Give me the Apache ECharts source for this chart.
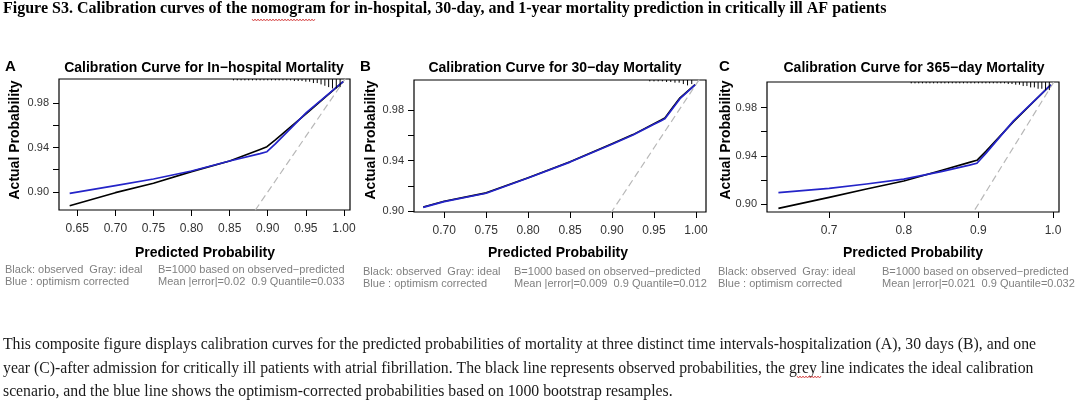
<!DOCTYPE html>
<html><head><meta charset="utf-8">
<script src="https://cdn.jsdelivr.net/npm/echarts@6/dist/echarts.min.js"></script>
<style>html,body{margin:0;padding:0;background:#fff}#c{width:1080px;height:405px}</style>
</head><body><div id="c"></div>
<script>
// ---- data ----
const xA = [0.640, 0.700, 0.750, 0.800, 0.850, 0.890, 0.899, 0.910, 0.951, 0.999];
const obsA = [0.8877, 0.8994, 0.9078, 0.9183, 0.9279, 0.9383, 0.9407, 0.9468, 0.9707, 0.9992];
const corA = [0.8988, 0.9057, 0.9117, 0.9189, 0.9279, 0.9345, 0.9362, 0.9432, 0.9716, 0.9992];

const xB = [0.675, 0.700, 0.750, 0.800, 0.850, 0.900, 0.925, 0.950, 0.958, 0.963, 0.970, 0.981, 0.999];
const obsB = [0.9034, 0.9079, 0.9145, 0.9264, 0.9390, 0.9532, 0.9605, 0.9690, 0.9718, 0.9737, 0.9800, 0.9895, 1.0000];
const corB = [0.9030, 0.9076, 0.9142, 0.9262, 0.9388, 0.9529, 0.9602, 0.9686, 0.9713, 0.9730, 0.9792, 0.9888, 0.9998];

const xC = [0.632, 0.700, 0.750, 0.800, 0.850, 0.888, 0.898, 0.910, 0.947, 0.997];
const obsC = [0.8964, 0.9055, 0.9124, 0.9191, 0.9277, 0.9345, 0.9362, 0.9436, 0.9683, 0.9988];
const corC = [0.9094, 0.9130, 0.9166, 0.9207, 0.9268, 0.9322, 0.9338, 0.9420, 0.9689, 0.9988];

const idealLine = [0.5, 1.05];

const rugAx = [0.855,0.860,0.865,0.870,0.875,0.880,0.885,0.890,0.895,0.900,0.905,0.910,0.915,0.920,0.925,0.930,0.935,0.940,0.945,0.950,0.955,0.960,0.965,0.970,0.975,0.980,0.985,0.990,0.995];
const rugAn = [1,1,1,1,1,1,1,1,1,1,1,1,1,1,1,1,1.5,1.5,1.5,2,2,3,3,4,5,6,7,7,6];
const rugBx = [0.945,0.950,0.955,0.960,0.965,0.970,0.975,0.980,0.985,0.990,0.995];
const rugBn = [1,1,1,1,1.5,1.5,2,2,3,4,3];
const rugCx = [0.810,0.815,0.820,0.825,0.830,0.835,0.840,0.845,0.850,0.855,0.860,0.865,0.870,0.875,0.880,0.885,0.890,0.895,0.900,0.905,0.910,0.915,0.920,0.925,0.930,0.935,0.940,0.945,0.950,0.955,0.960,0.965,0.970,0.975,0.980,0.985,0.990,0.995];
const rugCn = [1,1,1,1,1,1,1,1,1,1,1,1,1,1,1,1,1,1,1,1,1,1,1,1,1,1,1.5,1.5,2,2,3,3,4,4,5,5,6,6];

const xTicksA = [0.65,0.70,0.75,0.80,0.85,0.90,0.95,1.00];
const xTicksB = [0.70,0.75,0.80,0.85,0.90,0.95,1.00];
const xTicksC = [0.7,0.8,0.9,1.0];
const yTicks = [0.90,0.92,0.94,0.96,0.98];
const yLabels = [0.90,0.94,0.98];

const titles = ['Calibration Curve for In\u2212hospital Mortality','Calibration Curve for 30\u2212day Mortality','Calibration Curve for 365\u2212day Mortality'];
const letters = ['A','B','C'];
const notes1 = ['Black: observed  Gray: ideal','B=1000 based on observed\u2212predicted'];
const notes2 = [['Blue : optimism corrected','Mean |error|=0.02  0.9 Quantile=0.033'],['Blue : optimism corrected','Mean |error|=0.009  0.9 Quantile=0.012'],['Blue : optimism corrected','Mean |error|=0.021  0.9 Quantile=0.032']];
const header = 'Figure S3. Calibration curves of the nomogram for in-hospital, 30-day, and 1-year mortality prediction in critically ill AF patients';
const caption = [
 'This composite figure displays calibration curves for the predicted probabilities of mortality at three distinct time intervals-hospitalization (A), 30 days (B), and one',
 'year (C)-after admission for critically ill patients with atrial fibrillation. The black line represents observed probabilities, the grey line indicates the ideal calibration',
 'scenario, and the blue line shows the optimism-corrected probabilities based on 1000 bootstrap resamples.'
];

// ---- layout ----
const SANS = 'Liberation Sans, Arial, Helvetica, sans-serif';
const SERIF = 'Liberation Serif, Times New Roman, serif';
const grids = [
  {left:59, top:79, width:291, height:131},
  {left:414, top:80, width:292, height:132},
  {left:767, top:82, width:292, height:130}
];
const xr = [[0.626,1.008],[0.664,1.012],[0.6167,1.008]];
const yr = [[0.8838,1.0016],[0.8994,1.0036],[0.8934,1.0011]];
const xt = [xTicksA, xTicksB, xTicksC];
const xdec = [2,2,1];
const panelX = [0, 355, 710];
const titleCx = [204, 555, 914];
const yTitleCx = [15, 371, 726];
const xTitleCx = [205, 558, 913];
const noteX2 = [158, 514, 882];

const pair = (xs, ys) => xs.map((x,i)=>[x, ys[i]]);

function rugRender(params, api){
  const cs = params.coordSys;
  const px = api.coord([api.value(0), api.value(1)])[0];
  const n = api.value(2);
  return {type:'line', shape:{x1:px, y1:cs.y, x2:px, y2:cs.y + n*1.35}, style:{stroke:'#000', lineWidth:1}};
}

const series = [];
const obs = [obsA, obsB, obsC], cor = [corA, corB, corC], xs = [xA, xB, xC];
const rugX = [rugAx, rugBx, rugCx], rugN = [rugAn, rugBn, rugCn];
for (let i=0;i<3;i++){
  series.push({type:'line', xAxisIndex:i, yAxisIndex:i, data: idealLine.map(v=>[v,v]), clip:true, symbol:'none', silent:true,
    lineStyle:{color:'#b8b8b8', width:1.2, type:[7,4]}, z:1});
  series.push({type:'line', xAxisIndex:i, yAxisIndex:i, data: pair(xs[i], obs[i]), clip:true, symbol:'none', smooth:false,
    lineStyle:{color:'#000', width:1.6, join:'round'}, z:2});
  series.push({type:'line', xAxisIndex:i, yAxisIndex:i, data: pair(xs[i], cor[i]), clip:true, symbol:'none', smooth:false,
    lineStyle:{color:'#2424c8', width:1.7, join:'round'}, z:3});
  series.push({type:'custom', xAxisIndex:i, yAxisIndex:i, renderItem: rugRender,
    data: rugX[i].map((x,j)=>[x, yr[i][1], rugN[i][j]]), z:4, silent:true});
}

const xAxis = [], yAxis = [];
for (let i=0;i<3;i++){
  xAxis.push({type:'value', gridIndex:i, min:xr[i][0], max:xr[i][1], splitLine:{show:false},
    axisLine:{show:false},
    axisTick:{show:true, length:6, lineStyle:{color:'#000', width:1}, customValues: xt[i]},
    axisLabel:{show:true, customValues: xt[i], margin:13, fontFamily:SANS, fontSize:12, color:'#333',
      formatter: v => Number(v).toFixed(xdec[i])}});
  yAxis.push({type:'value', gridIndex:i, min:yr[i][0], max:yr[i][1], splitLine:{show:false},
    axisLine:{show:false},
    axisTick:{show:true, length:6, lineStyle:{color:'#000', width:1}, customValues: yTicks},
    axisLabel:{show:true, customValues: yLabels, margin:10, fontFamily:SANS, fontSize:11, color:'#333',
      formatter: v => Number(v).toFixed(2)}});
}

function squiggle(x1, x2, y){
  const pts = []; let up = true;
  for (let x = x1; x <= x2; x += 1.5){ pts.push([x, up ? y - 1 : y + 1]); up = !up; }
  return {type:'polyline', shape:{points:pts}, style:{stroke:'#d03030', lineWidth:0.8, fill:null}, silent:true};
}

const graphic = [];
graphic.push({type:'text', left:3, top:1, style:{text:header, font:'bold 16px '+SERIF, fill:'#000'}});
caption.forEach((t,i)=>graphic.push({type:'text', left:3, top:337 + i*23.5, style:{text:t, font:'15.75px '+SERIF, fill:'#1a1a1a'}}));
graphic.push(squiggle(252, 316, 20));
graphic.push(squiggle(797, 821, 377));
for (let i=0;i<3;i++){
  const ox = panelX[i];
  graphic.push({type:'text', x: ox + (i===0?5:(i===1?5:9)), y:67, style:{text:letters[i], font:'bold 15px '+SANS, fill:'#000', verticalAlign:'middle'}});
  graphic.push({type:'text', x:titleCx[i], y:68, style:{text:titles[i], font:'bold 14px '+SANS, fill:'#000', align:'center', verticalAlign:'middle'}});
  graphic.push({type:'text', x:yTitleCx[i], y:140, rotation:Math.PI/2, style:{text:'Actual Probability', font:'bold 14px '+SANS, fill:'#000', align:'center', verticalAlign:'middle'}});
  graphic.push({type:'text', x:xTitleCx[i], y:253, style:{text:'Predicted Probability', font:'bold 14px '+SANS, fill:'#000', align:'center', verticalAlign:'middle'}});
  const ny = i===0 ? 270 : 271.5;
  graphic.push({type:'text', x: ox + (i===0?5:8), y:ny, style:{text:notes1[0], font:'11px '+SANS, fill:'#808080', verticalAlign:'middle'}});
  graphic.push({type:'text', x: noteX2[i], y:ny, style:{text:notes1[1], font:'11px '+SANS, fill:'#808080', verticalAlign:'middle'}});
  graphic.push({type:'text', x: ox + (i===0?5:8), y:ny+12.3, style:{text:notes2[i][0], font:'11px '+SANS, fill:'#808080', verticalAlign:'middle'}});
  graphic.push({type:'text', x: noteX2[i], y:ny+12.3, style:{text:notes2[i][1], font:'11px '+SANS, fill:'#808080', verticalAlign:'middle'}});
}

const chart = echarts.init(document.getElementById('c'), null, {renderer:'canvas'});
chart.setOption({
  animation:false,
  backgroundColor:'#fff',
  grid: grids.map(g=>Object.assign({show:true, borderColor:'#000', borderWidth:1.2, backgroundColor:'transparent'}, g)),
  xAxis, yAxis, series, graphic
});
</script></body></html>
